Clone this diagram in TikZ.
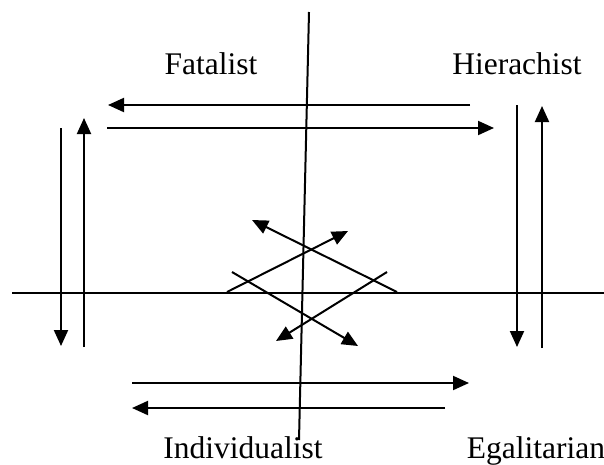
\documentclass[tikz,border=0pt]{standalone}
\usepackage{fontspec}
\setmainfont{Liberation Serif}
\usetikzlibrary{arrows.meta}
\begin{document}
\begin{tikzpicture}[x=1pt,y=-1pt,
  ln/.style={line width=2pt,line cap=butt},
  arr/.style={ln,-{Triangle[length=16pt,width=14pt]}},
  lbl/.style={font=\fontsize{31.5}{36}\selectfont,anchor=base,inner sep=0pt}]
\useasboundingbox (0,0) rectangle (604,464);
% labels
\node[lbl] (fat) at (211,74) {Fatalist};
\node[lbl] (hie) at (517,74) {Hierachist};
\node[lbl] (ind) at (243,458) {Individualist};
\node[lbl] (ega) at (536,458) {Egalitarian};
% axes
\coordinate (vt) at (309,12);
\coordinate (vb) at (299,440);
\coordinate (hl) at (12,293);
\coordinate (hr) at (604,293);
\draw[ln] (vt) -- (vb);
\draw[ln] (hl) -- (hr);
% top arrows
\coordinate (t1s) at (470,105); \coordinate (t1e) at (108,105);
\coordinate (t2s) at (107,128); \coordinate (t2e) at (494,128);
\draw[arr] (t1s) -- (t1e);
\draw[arr] (t2s) -- (t2e);
% left vertical arrows
\coordinate (l1s) at (61,128); \coordinate (l1e) at (61,346);
\coordinate (l2s) at (84,347); \coordinate (l2e) at (84,118);
\draw[arr] (l1s) -- (l1e);
\draw[arr] (l2s) -- (l2e);
% right vertical arrows
\coordinate (r1s) at (517,105); \coordinate (r1e) at (517,347);
\coordinate (r2s) at (542,348); \coordinate (r2e) at (542,106);
\draw[arr] (r1s) -- (r1e);
\draw[arr] (r2s) -- (r2e);
% bottom arrows
\coordinate (b1s) at (132,383); \coordinate (b1e) at (469,383);
\coordinate (b2s) at (445,408); \coordinate (b2e) at (132,408);
\draw[arr] (b1s) -- (b1e);
\draw[arr] (b2s) -- (b2e);
% diagonal arrows
\coordinate (d1s) at (397,292); \coordinate (d1e) at (252,220);
\coordinate (d2s) at (227,292); \coordinate (d2e) at (348,231);
\coordinate (d3s) at (232,272); \coordinate (d3e) at (358,346);
\coordinate (d4s) at (387,272); \coordinate (d4e) at (276,341);
\draw[arr] (d1s) -- (d1e);
\draw[arr] (d2s) -- (d2e);
\draw[arr] (d3s) -- (d3e);
\draw[arr] (d4s) -- (d4e);
\end{tikzpicture}
\end{document}
